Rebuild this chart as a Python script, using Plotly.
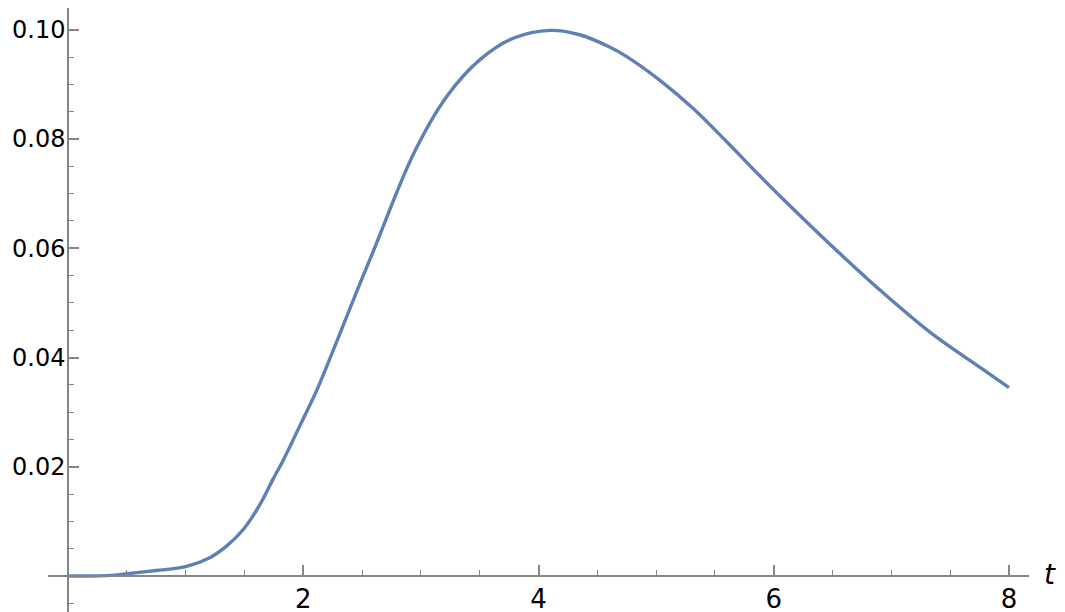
import plotly.graph_objects as go

# curve
t_vals = [0, 0.2, 0.36, 0.5, 0.75, 1.0, 1.21, 1.35, 1.49, 1.63, 1.74, 1.83, 2.0, 2.115,
          2.31, 2.455, 2.6, 2.94, 3.22, 3.5, 3.79, 4.1, 4.35, 4.6, 4.75, 5.03, 5.32,
          5.6, 5.88, 6.17, 6.48, 6.9, 7.33, 7.76, 8.0]
y_vals = [0, 0, 0.0001, 0.0004, 0.001, 0.0017, 0.0034, 0.0055, 0.0085, 0.013, 0.0176,
          0.0212, 0.0288, 0.034, 0.0443, 0.0521, 0.0597, 0.0774, 0.0878, 0.0945, 0.0985,
          0.0999, 0.0991, 0.0969, 0.0951, 0.0908, 0.0855, 0.0795, 0.0733, 0.0671,
          0.0607, 0.0524, 0.0446, 0.0381, 0.0345]

x_ticks = [2, 4, 6, 8]
y_ticks = [0.02, 0.04, 0.06, 0.08, 0.10]
y_tick_text = ["0.02", "0.04", "0.06", "0.08", "0.10"]

axis_grey = "#858585"

fig = go.Figure()
fig.add_trace(go.Scatter(
    x=t_vals, y=y_vals, mode="lines",
    line=dict(color="#5E81B5", width=3.4, shape="spline", smoothing=1.0),
    hoverinfo="skip", showlegend=False,
))

# page body adds 8px, so margins are shifted to line up with the reference
fig.update_layout(
    width=1065, height=612,
    margin=dict(l=40, r=44, t=0, b=8),
    plot_bgcolor="white", paper_bgcolor="white",
    font=dict(family="DejaVu Sans", size=26, color="black"),
    xaxis=dict(
        range=[-0.17, 8.17], anchor="free", position=36 / 604, automargin=False,
        showgrid=False, zeroline=False, showline=True, linecolor=axis_grey, linewidth=1.5,
        tickvals=x_ticks, ticks="inside", ticklen=10, tickwidth=1.5, tickcolor=axis_grey,
        minor=dict(dtick=0.5, tick0=0, ticks="inside", ticklen=5, tickwidth=1.2, tickcolor=axis_grey),
    ),
    yaxis=dict(
        range=[-0.0066, 0.1040], anchor="free", position=20 / 981, automargin=False,
        showgrid=False, zeroline=False, showline=True, linecolor=axis_grey, linewidth=1.5,
        tickvals=y_ticks, ticktext=y_tick_text, ticks="inside", ticklen=10, tickwidth=1.5,
        tickcolor=axis_grey, tickfont=dict(size=24), ticklabelstandoff=-3,
        minor=dict(dtick=0.005, tick0=0, ticks="inside", ticklen=5, tickwidth=1.2, tickcolor=axis_grey),
    ),
)

# axis label "t" sits just past the right end of the x axis
fig.add_annotation(
    x=1.021, y=0.0629, xref="paper", yref="paper", text="<i>t</i>", showarrow=False,
    font=dict(size=28, color="black"), xanchor="center", yanchor="middle",
)

fig.write_html("out.html")
